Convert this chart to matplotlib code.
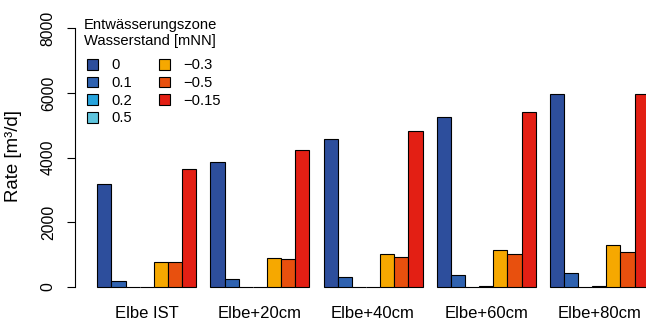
import numpy as np
import matplotlib
matplotlib.use("Agg")
import matplotlib.pyplot as plt

plt.rcParams['font.family'] = ['Liberation Sans', 'DejaVu Sans']

# scenarios (groups) and water levels (bars within a group)
groups = ["Elbe IST", "Elbe+20cm", "Elbe+40cm", "Elbe+60cm", "Elbe+80cm"]
levels = ["0", "0.1", "0.2", "0.5", "\u22120.3", "\u22120.5", "\u22120.15"]
colors = ["#2D4E9C", "#2F62B0", "#27A4DD", "#5EC4DD", "#F6A800", "#E8500E", "#E31F14"]

# rate per level, one list per water level, values per group
rate_0 = [3180, 3865, 4570, 5255, 5965]
rate_01 = [180, 245, 320, 370, 440]
rate_02 = [5, 5, 5, 5, 5]
rate_05 = [5, 5, 10, 15, 30]
rate_m03 = [765, 895, 1030, 1155, 1290]
rate_m05 = [780, 865, 935, 1020, 1090]
rate_m015 = [3650, 4225, 4825, 5400, 5965]
series = [rate_0, rate_01, rate_02, rate_05, rate_m03, rate_m05, rate_m015]

fig = plt.figure(figsize=(6.46, 3.2), dpi=100)
# R-style plot region (right side runs past the figure edge like the original)
ax = fig.add_axes([75.3 / 646, 22.7 / 320, 595.5 / 646, 279.3 / 320])

nbar = len(levels)
for j, vals in enumerate(series):
    x = [1 + g * (nbar + 1) + j + 0.5 for g in range(len(groups))]
    ax.bar(x, vals, width=1.0, color=colors[j], edgecolor="black",
           linewidth=0.8, label=levels[j])

ax.set_xlim(-0.56, 41.56)
ax.set_ylim(-320, 8320)

centers = [1 + g * (nbar + 1) + nbar / 2 for g in range(len(groups))]
ax.set_xticks(centers)
ax.set_xticklabels(groups, fontsize=12)
ax.tick_params(axis="x", length=0, pad=6)

ax.set_yticks([0, 2000, 4000, 6000, 8000])
ax.set_yticklabels(["0", "2000", "4000", "6000", "8000"], rotation=90,
                   va="center", fontsize=11.3)
ax.tick_params(axis="y", length=6, width=0.8, pad=8)

for s in ["top", "right", "bottom"]:
    ax.spines[s].set_visible(False)
ax.spines["left"].set_bounds(0, 8000)
ax.spines["left"].set_linewidth(0.8)

fig.text(13.3 / 646, 1 - 156 / 320, "Rate [m\u00b3/d]", rotation=90,
         ha="center", va="center", fontsize=13.4)

# legend title placed like R's centered legend title
fig.text(150 / 646, 1 - 33 / 320, "Entw\u00e4sserungszone\nWasserstand [mNN]",
         ha="center", va="center", multialignment="center", fontsize=10.6)

leg = ax.legend(ncol=2, loc="upper left", bbox_to_anchor=(80 / 646, 1 - 51 / 320),
                bbox_transform=fig.transFigure, frameon=False,
                fontsize=10.6, handlelength=0.75,
                handleheight=0.75, labelspacing=0.25, columnspacing=1.8,
                handletextpad=0.9, borderpad=0)

fig.savefig("out.png", dpi=100)
